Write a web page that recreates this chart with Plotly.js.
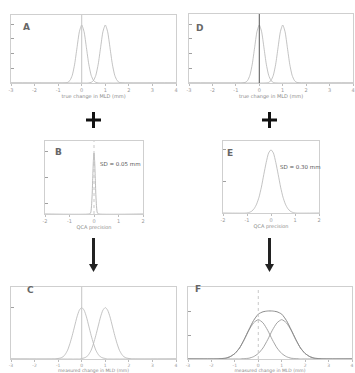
<!DOCTYPE html>
<html><head><meta charset="utf-8">
<script src="https://cdn.plot.ly/plotly-3.0.1.min.js"></script>
<style>html,body{margin:0;padding:0;background:#fff}#plot{width:355px;height:373px}</style>
</head><body><div id="plot"></div>
<script>
// ---- data ----
const xA = [-3,-0.8,-0.7,-0.6,-0.5,-0.4,-0.3,-0.2,-0.1,0,0.1,0.2,0.3,0.4,0.5,0.6,0.7,0.8,0.9,1,1.1,1.2,1.3,1.4,1.5,1.6,1.7,1.8,4];
const yA1 = [0,0,0.01,0.04,0.17,0.53,1.28,2.40,3.49,3.95,3.49,2.40,1.28,0.53,0.17,0.04,0.01,0,0,0,0,0,0,0,0,0,0,0,0];
const yA2 = [0,0,0,0,0,0,0,0,0,0,0,0,0.01,0.04,0.17,0.53,1.28,2.40,3.49,3.95,3.49,2.40,1.28,0.53,0.17,0.04,0.01,0,0];
const xD = xA.slice();
const yD1 = [0,0,0.01,0.04,0.17,0.53,1.28,2.40,3.49,3.95,3.49,2.40,1.28,0.53,0.17,0.04,0.01,0,0,0,0,0,0,0,0,0,0,0,0];
const yD2 = [0,0,0,0,0,0,0,0,0,0,0,0,0.01,0.04,0.17,0.53,1.28,2.40,3.49,3.95,3.49,2.40,1.28,0.53,0.17,0.04,0.01,0,0];
const xB = [-2,-0.2,-0.15,-0.125,-0.1,-0.075,-0.05,-0.025,0,0.025,0.05,0.075,0.1,0.125,0.15,0.2,2];
const yB = [0,0,0.01,0.04,0.14,0.32,0.61,0.88,1,0.88,0.61,0.32,0.14,0.04,0.01,0,0];
const xE = [-2,-1,-0.9,-0.8,-0.7,-0.6,-0.5,-0.4,-0.3,-0.2,-0.1,0,0.1,0.2,0.3,0.4,0.5,0.6,0.7,0.8,0.9,1,2];
const yE = [0,0,0.01,0.03,0.07,0.14,0.25,0.41,0.61,0.80,0.95,1,0.95,0.80,0.61,0.41,0.25,0.14,0.07,0.03,0.01,0,0];
const xC = [-3,-1.1,-1,-0.9,-0.8,-0.7,-0.6,-0.5,-0.4,-0.3,-0.2,-0.1,0,0.1,0.2,0.3,0.4,0.5,0.6,0.7,0.8,0.9,1,1.1,1.2,1.3,1.4,1.5,1.6,1.7,1.8,1.9,2,2.1,4];
const yC1 = [0,0,0.01,0.02,0.04,0.09,0.17,0.30,0.46,0.64,0.82,0.95,1,0.95,0.82,0.64,0.46,0.30,0.17,0.09,0.04,0.02,0.01,0,0,0,0,0,0,0,0,0,0,0,0];
const yC2 = [0,0,0,0,0,0,0,0,0,0,0,0,0.01,0.02,0.04,0.09,0.17,0.30,0.46,0.64,0.82,0.95,1,0.95,0.82,0.64,0.46,0.30,0.17,0.09,0.04,0.02,0.01,0,0];
const xF = [-3,-1.8,-1.6,-1.4,-1.2,-1,-0.8,-0.6,-0.4,-0.2,0,0.2,0.4,0.6,0.8,1,1.2,1.4,1.6,1.8,2,2.2,2.4,2.6,2.8,4];
const yF1 = [0,0,0.01,0.02,0.06,0.14,0.28,0.49,0.73,0.92,1,0.92,0.73,0.49,0.28,0.14,0.06,0.02,0.01,0,0,0,0,0,0,0];
const yF2 = [0,0,0,0,0,0,0,0.01,0.02,0.06,0.14,0.28,0.49,0.73,0.92,1,0.92,0.73,0.49,0.28,0.14,0.06,0.02,0.01,0,0];
const yFsum = [0,0,0.01,0.02,0.06,0.14,0.28,0.50,0.75,0.98,1.14,1.20,1.22,1.22,1.20,1.14,0.98,0.75,0.50,0.28,0.14,0.06,0.02,0.01,0,0];
const wideTicks = [-3,-2,-1,0,1,2,3,4];
const narrowTicks = [-2,-1,0,1,2];
const titleTrue = 'true change in MLD (mm)';
const titleQCA = 'QCA precision';
const titleMeas = 'measured change in MLD (mm)';
const sdB = 'SD = 0.05 mm';
const sdE = 'SD = 0.30 mm';

// ---- layout helpers ----
const W = 355, H = 373;
const px = x => x / W, py = y => 1 - y / H;
const curve = '#b4b4b4';
function tr(x, y, ax, color, width) {
  return {x, y, xaxis: 'x' + ax, yaxis: 'y' + ax, type: 'scatter', mode: 'lines',
    line: {color: color || curve, width: width || 0.8, shape: 'spline', smoothing: 0.6},
    hoverinfo: 'skip', showlegend: false};
}
function xax(x0, x1, range, ticks, title, anchor, tsize) {
  return {domain: [px(x0), px(x1)], range, tickvals: ticks, ticktext: ticks.map(String),
    showline: true, mirror: true, linecolor: '#cfcfcf', linewidth: 1,
    ticks: 'outside', ticklen: 2, tickcolor: '#bdbdbd', tickfont: {size: tsize || 5, color: '#9a9a9a', family: 'DejaVu Sans'},
    showgrid: false, zeroline: false, anchor, fixedrange: true,
    title: {text: title, font: {size: tsize || 5, color: '#8a8a8a', family: 'DejaVu Sans'}, standoff: 0}};
}
function yax(y0, y1, range, ticks, anchor) {
  return {domain: [py(y1), py(y0)], range, tickvals: ticks, showticklabels: false,
    showline: true, mirror: true, linecolor: '#cfcfcf', linewidth: 1,
    ticks: 'inside', ticklen: 3, tickcolor: '#a0a0a0', tickwidth: 1,
    showgrid: false, zeroline: false, anchor, fixedrange: true};
}

const data = [
  tr(xA, yA1, ''), tr(xA, yA2, ''),
  tr(xD, yD1, '2'), tr(xD, yD2, '2'),
  tr(xB, yB, '3', '#a8a8a8'),
  tr(xE, yE, '4'),
  tr(xC, yC1, '5'), tr(xC, yC2, '5'),
  tr(xF, yF1, '6', '#9a9a9a', 0.9), tr(xF, yF2, '6', '#9a9a9a', 0.9), tr(xF, yFsum, '6', '#8c8c8c', 1)
];

const layout = {
  width: W, height: H, margin: {l: 0, r: 0, t: 0, b: 0}, paper_bgcolor: '#fff', plot_bgcolor: '#fff',
  showlegend: false,
  xaxis:  xax(11, 176, [-3, 4], wideTicks, titleTrue, 'y'),
  yaxis:  yax(15, 83, [0, 4.63], [1.0, 2.0, 3.0, 4.0], 'x'),
  xaxis2: xax(189, 353, [-3, 4], wideTicks, titleTrue, 'y2'),
  yaxis2: yax(14, 83, [0, 4.7], [1.0, 2.0, 3.0, 4.0], 'x2'),
  xaxis3: xax(45, 143, [-2, 2], narrowTicks, titleQCA, 'y3'),
  yaxis3: yax(141, 214, [0, 1.2], [0.18, 0.6, 1.02], 'x3'),
  xaxis4: xax(223, 319, [-2, 2], narrowTicks, titleQCA, 'y4'),
  yaxis4: yax(141, 213, [0, 1.14], [0.5, 1.0], 'x4'),
  xaxis5: xax(11, 176, [-3, 4], wideTicks, titleMeas, 'y5', 4.5),
  yaxis5: yax(287, 359, [0, 1.4], [1.0], 'x5'),
  xaxis6: xax(188, 352, [-3, 4], wideTicks, titleMeas, 'y6', 4.5),
  yaxis6: yax(287, 359, [0, 1.83], [0.6, 1.2], 'x6'),
  shapes: [
    {type: 'line', xref: 'x', yref: 'y domain', x0: 0, x1: 0, y0: 0, y1: 1, line: {color: '#c4c4c4', width: 1}},
    {type: 'line', xref: 'x2', yref: 'y2 domain', x0: 0, x1: 0, y0: 0, y1: 1, line: {color: '#555', width: 1}},
    {type: 'line', xref: 'x3', yref: 'y3 domain', x0: 0, x1: 0, y0: 0, y1: 1, line: {color: '#bbb', width: 0.8, dash: 'dot'}},
    {type: 'line', xref: 'x5', yref: 'y5 domain', x0: 0, x1: 0, y0: 0, y1: 1, line: {color: '#c4c4c4', width: 1}},
    {type: 'line', xref: 'x6', yref: 'y6 domain', x0: 0, x1: 0, y0: 0, y1: 1, line: {color: '#bbb', width: 0.8, dash: 'dot'}},
    // plus signs
    {type: 'rect', xref: 'paper', yref: 'paper', x0: px(86), x1: px(101), y0: py(121.5), y1: py(118.5), fillcolor: '#111', line: {width: 0}},
    {type: 'rect', xref: 'paper', yref: 'paper', x0: px(92), x1: px(95), y0: py(128), y1: py(112), fillcolor: '#111', line: {width: 0}},
    {type: 'rect', xref: 'paper', yref: 'paper', x0: px(262), x1: px(277), y0: py(121.5), y1: py(118.5), fillcolor: '#111', line: {width: 0}},
    {type: 'rect', xref: 'paper', yref: 'paper', x0: px(268), x1: px(271), y0: py(128), y1: py(112), fillcolor: '#111', line: {width: 0}},
    // arrows
    {type: 'rect', xref: 'paper', yref: 'paper', x0: px(92), x1: px(95), y0: py(265), y1: py(238), fillcolor: '#222', line: {width: 0}},
    {type: 'path', xref: 'paper', yref: 'paper', path: `M ${px(89)} ${py(264)} L ${px(98)} ${py(264)} L ${px(93.5)} ${py(272)} Z`, fillcolor: '#222', line: {width: 0}},
    {type: 'rect', xref: 'paper', yref: 'paper', x0: px(268), x1: px(271), y0: py(265), y1: py(238), fillcolor: '#222', line: {width: 0}},
    {type: 'path', xref: 'paper', yref: 'paper', path: `M ${px(265)} ${py(264)} L ${px(274)} ${py(264)} L ${px(269.5)} ${py(272)} Z`, fillcolor: '#222', line: {width: 0}}
  ],
  annotations: [
    {text: '<b>A</b>', xref: 'paper', yref: 'paper', x: px(21), y: py(20), showarrow: false, font: {size: 9, color: '#666', family: 'DejaVu Sans'}},
    {text: '<b>D</b>', xref: 'paper', yref: 'paper', x: px(199), y: py(21), showarrow: false, font: {size: 9, color: '#666', family: 'DejaVu Sans'}},
    {text: '<b>B</b>', xref: 'paper', yref: 'paper', x: px(53), y: py(152), showarrow: false, font: {size: 9, color: '#666', family: 'DejaVu Sans'}},
    {text: '<b>E</b>', xref: 'paper', yref: 'paper', x: px(230), y: py(153), showarrow: false, font: {size: 9, color: '#666', family: 'DejaVu Sans'}},
    {text: '<b>C</b>', xref: 'paper', yref: 'paper', x: px(25), y: py(297), showarrow: false, font: {size: 9, color: '#666', family: 'DejaVu Sans'}},
    {text: '<b>F</b>', xref: 'paper', yref: 'paper', x: px(198), y: py(296), showarrow: false, font: {size: 9, color: '#666', family: 'DejaVu Sans'}},
    {text: sdB, xref: 'paper', yref: 'paper', x: px(98), y: py(164), xanchor: 'left', showarrow: false, font: {size: 5.5, color: '#555', family: 'DejaVu Sans'}},
    {text: sdE, xref: 'paper', yref: 'paper', x: px(278), y: py(167), xanchor: 'left', showarrow: false, font: {size: 5.5, color: '#555', family: 'DejaVu Sans'}}
  ]
};
Plotly.newPlot('plot', data, layout, {staticPlot: true, displayModeBar: false});
</script></body></html>
